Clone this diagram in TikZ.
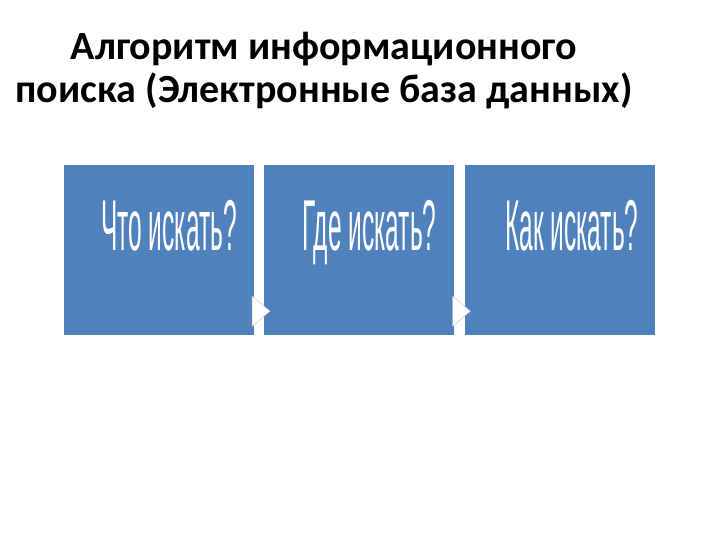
\documentclass[tikz,border=0pt]{standalone}
\usepackage{fontspec}
\setmainfont{Carlito}
\newfontfamily\narrowfont[FakeStretch=0.34]{Liberation Sans}
\usetikzlibrary{positioning,shapes.geometric,calc}
\definecolor{boxblue}{RGB}{79,129,189}
\tikzset{
  stepbox/.style={fill=boxblue, minimum width=190pt, minimum height=170pt, inner sep=0pt},
  asktext/.style={text=white, anchor=base, inner sep=0pt, font=\narrowfont\fontsize{72}{72}\selectfont},
  arrowtri/.style={isosceles triangle, isosceles triangle apex angle=80, fill=white, draw=gray!50,
    minimum height=18pt, inner sep=0pt}
}
\begin{document}
\begin{tikzpicture}[x=1pt,y=-1pt]
  \fill[white] (0,0) rectangle (720,540);
  \useasboundingbox (0,0) rectangle (720,540);

  % title
  \node[align=center, anchor=base, inner sep=0pt, font=\bfseries\fontsize{40}{43}\selectfont]
    (title) at (324,103) {Алгоритм информационного\\поиска (Электронные база данных)};

  % three steps
  \node[stepbox] (what) at (159,250) {};
  \node[stepbox, right=10pt of what] (where) {};
  \node[stepbox, right=10pt of where] (how) {};

  \node[asktext] (whatlbl)  at ($(what.center)+(10,0)$)  {Что искать?};
  \node[asktext] (wherelbl) at ($(where.center)+(10,0)$) {Где искать?};
  \node[asktext] (howlbl)   at ($(how.center)+(12,0)$)   {Как искать?};

  % arrows between the steps
  \node[arrowtri] (a1) at ($(what.south east)!0.5!(where.south west)+(0,-24)$) {};
  \node[arrowtri] (a2) at ($(where.south east)!0.5!(how.south west)+(0,-24)$) {};
\end{tikzpicture}
\end{document}
